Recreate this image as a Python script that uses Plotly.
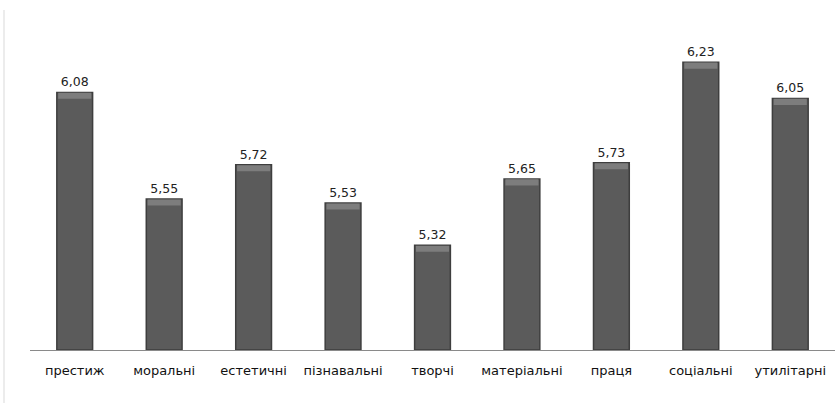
import plotly.graph_objects as go

categories = ["престиж", "моральні", "естетичні", "пізнавальні", "творчі",
              "матеріальні", "праця", "соціальні", "утилітарні"]
values = [6.08, 5.55, 5.72, 5.53, 5.32, 5.65, 5.73, 6.23, 6.05]
labels = [f"{v:.2f}".replace(".", ",") for v in values]

BASE = 4.8
W, H = 838, 406
ml, mr, mt, mb = 30, 3, 28, 56
pw = W - ml - mr

fig = go.Figure()
fig.add_trace(go.Bar(
    x=categories, y=[v - BASE for v in values], base=BASE,
    text=labels, textposition="outside", cliponaxis=False,
    textfont=dict(family="DejaVu Sans", size=12.5, color="#222"),
    marker=dict(color="#5b5b5b", line=dict(color="#3e3e3e", width=1.5)),
    width=0.4,
))
# top bevel highlight
fig.add_trace(go.Bar(
    x=categories, y=[0.03] * len(values), base=[v - 0.032 for v in values],
    marker=dict(color="#7d7d7d", line=dict(width=0)),
    width=0.37, hoverinfo="skip",
))

fig.update_layout(
    width=W, height=H,
    margin=dict(l=ml, r=mr, t=mt, b=mb),
    paper_bgcolor="white", plot_bgcolor="white",
    showlegend=False, barmode="overlay",
    xaxis=dict(showline=True, linecolor="#8a8a8a", linewidth=1.2, ticks="",
               tickfont=dict(family="DejaVu Sans", size=13, color="#111"),
               ticklabelstandoff=8, showgrid=False),
    yaxis=dict(range=[BASE, 6.4], visible=False, showgrid=False),
    shapes=[dict(type="line", xref="paper", yref="paper",
                 x0=(4 - ml) / pw, x1=(4 - ml) / pw,
                 y0=(H - mb - 403) / (H - mt - mb), y1=(H - mb - 10) / (H - mt - mb),
                 line=dict(color="#d9d9d9", width=1))],
)
fig.write_html("out.html")
